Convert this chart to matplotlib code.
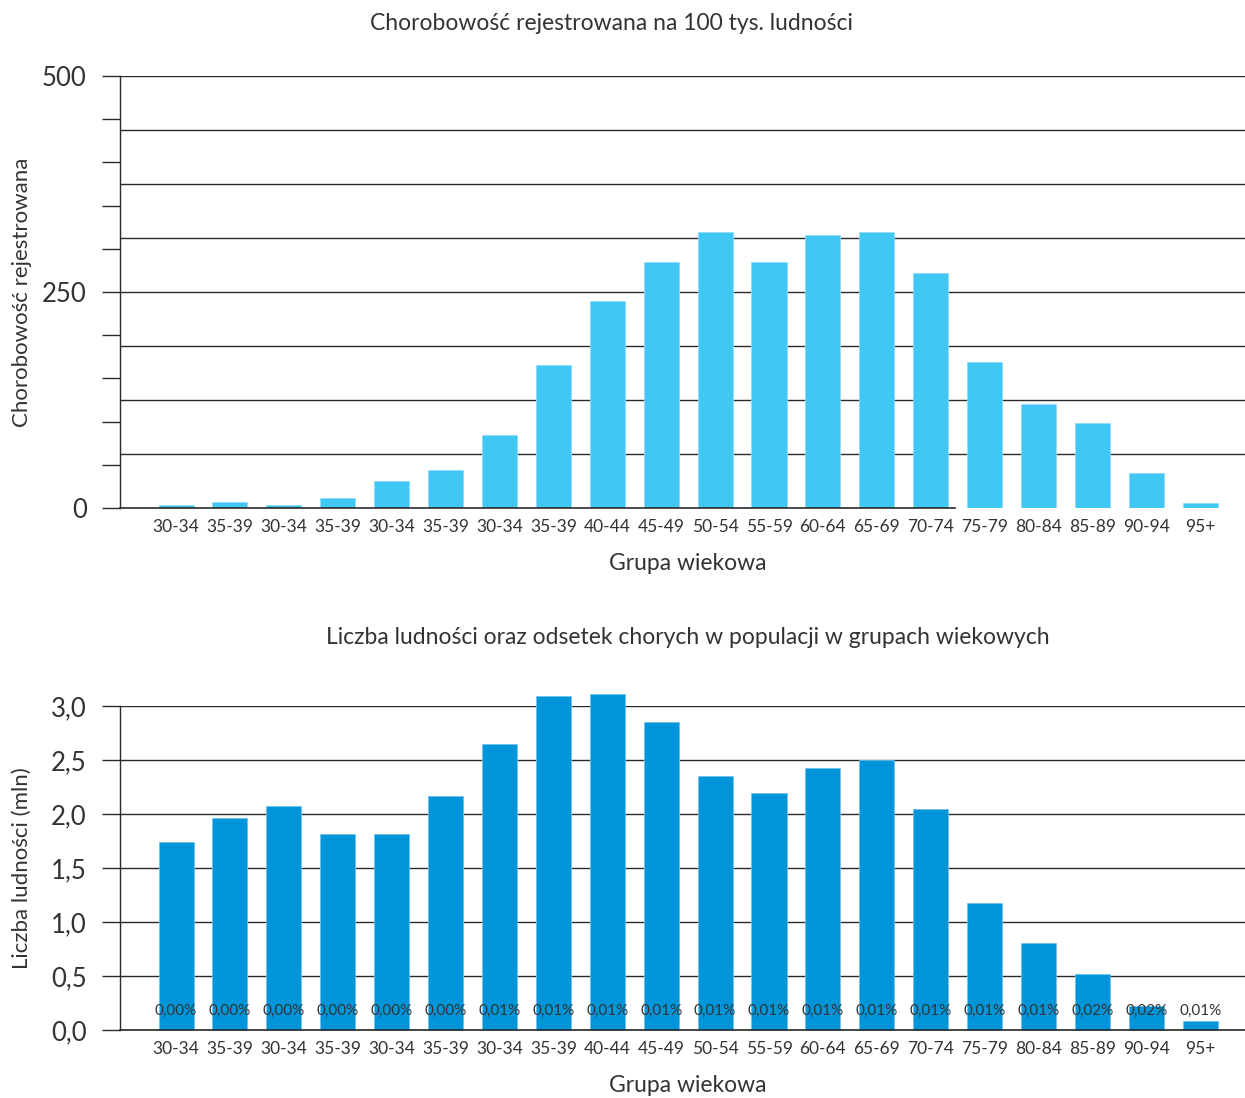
import numpy as np
import matplotlib
matplotlib.use("Agg")
import matplotlib.pyplot as plt
from matplotlib.ticker import FuncFormatter

# --- dane ---
age_groups = ['30-34', '35-39', '30-34', '35-39', '30-34', '35-39', '30-34', '35-39',
              '40-44', '45-49', '50-54', '55-59', '60-64', '65-69', '70-74', '75-79',
              '80-84', '85-89', '90-94', '95+']
morbidity = [4, 7, 4, 11, 31, 44, 85, 165, 240, 285, 320, 285, 316, 319, 272,
             169, 120, 98, 40, 6]
population = [1.74, 1.963, 2.077, 1.818, 1.818, 2.167, 2.648, 3.096, 3.108, 2.852,
              2.352, 2.194, 2.426, 2.503, 2.046, 1.179, 0.802, 0.516, 0.222, 0.080]
share_sick = ['0,00%', '0,00%', '0,00%', '0,00%', '0,00%', '0,00%', '0,01%', '0,01%',
              '0,01%', '0,01%', '0,01%', '0,01%', '0,01%', '0,01%', '0,01%', '0,01%',
              '0,01%', '0,02%', '0,02%', '0,01%']

# --- styl ---
plt.rcParams['font.family'] = ['Lato', 'DejaVu Sans']
TXT = '#333333'
LINE = '#2a2a2a'
TOP_COLOR = '#41C7F3'
BOT_COLOR = '#0095D8'

W, H = 1245, 1098
fig = plt.figure(figsize=(W / 100, H / 100), dpi=100)

x = np.arange(len(age_groups))
XLIM = (-1.04, 19.83)


def style_axis(ax):
    ax.set_xlim(*XLIM)
    ax.set_xticks(x)
    ax.set_xticklabels(age_groups, fontsize=12.5, color=TXT)
    ax.tick_params(axis='x', length=0, pad=8)
    ax.tick_params(axis='y', length=13, width=1, color=LINE, labelsize=18.5,
                   labelcolor=TXT, pad=11)
    for side in ['top', 'right']:
        ax.spines[side].set_visible(False)
    ax.spines['left'].set_color(LINE)
    ax.spines['bottom'].set_color(LINE)
    ax.spines['left'].set_linewidth(1)
    ax.spines['bottom'].set_linewidth(1.2)


# --- wykres górny ---
ax1 = fig.add_axes([120 / W, 1 - 508 / H, 1125 / W, 432 / H])
ax1.set_ylim(0, 500)
for yv in np.arange(62.5, 501, 62.5):
    ax1.axhline(yv, color=LINE, lw=1, zorder=1)
ax1.bar(x, morbidity, width=0.65, color=TOP_COLOR, edgecolor='#8fdcf8',
        linewidth=0.6, zorder=2)
style_axis(ax1)
ax1.set_yticks(np.arange(0, 501, 50))
ax1.yaxis.set_major_formatter(FuncFormatter(lambda v, p: f'{int(v)}' if v % 250 == 0 else ''))
ax1.spines['bottom'].set_bounds(XLIM[0], 14.45)
ax1.set_ylabel('Chorobowość rejestrowana', fontsize=16, color=TXT)
ax1.yaxis.set_label_coords(-0.078, 0.5)

fig.text(611 / W, 1 - 24 / H, 'Chorobowość rejestrowana na 100 tys. ludności',
         ha='center', va='center', fontsize=16.5, color=TXT)
fig.text(688 / W, 1 - 563 / H, 'Grupa wiekowa', ha='center', va='center',
         fontsize=16.5, color=TXT)

# --- wykres dolny ---
ax2 = fig.add_axes([120 / W, 1 - 1030 / H, 1125 / W, 324 / H])
ax2.set_ylim(0, 3.0)
ax2.set_yticks(np.arange(0, 3.01, 0.5))
ax2.yaxis.set_major_formatter(FuncFormatter(lambda v, p: f'{v:.1f}'.replace('.', ',')))
ax2.yaxis.grid(True, color=LINE, lw=1, zorder=1)
ax2.set_axisbelow(True)
bars = ax2.bar(x, population, width=0.65, color=BOT_COLOR, edgecolor='#6cc3ee',
               linewidth=0.6, zorder=2)
for b in bars:
    b.set_clip_on(False)
style_axis(ax2)
for xi, lab in zip(x, share_sick):
    ax2.text(xi, 0.176, lab, ha='center', va='center', fontsize=11,
             color='#333333', zorder=3)
ax2.set_ylabel('Liczba ludności (mln)', fontsize=16, color=TXT)
ax2.yaxis.set_label_coords(-0.078, 0.5)

fig.text(688 / W, 1 - 638 / H,
         'Liczba ludności oraz odsetek chorych w populacji w grupach wiekowych',
         ha='center', va='center', fontsize=16.5, color=TXT)
fig.text(688 / W, 1 - 1086 / H, 'Grupa wiekowa', ha='center', va='center',
         fontsize=16.5, color=TXT)

fig.savefig('out.png', dpi=100)
